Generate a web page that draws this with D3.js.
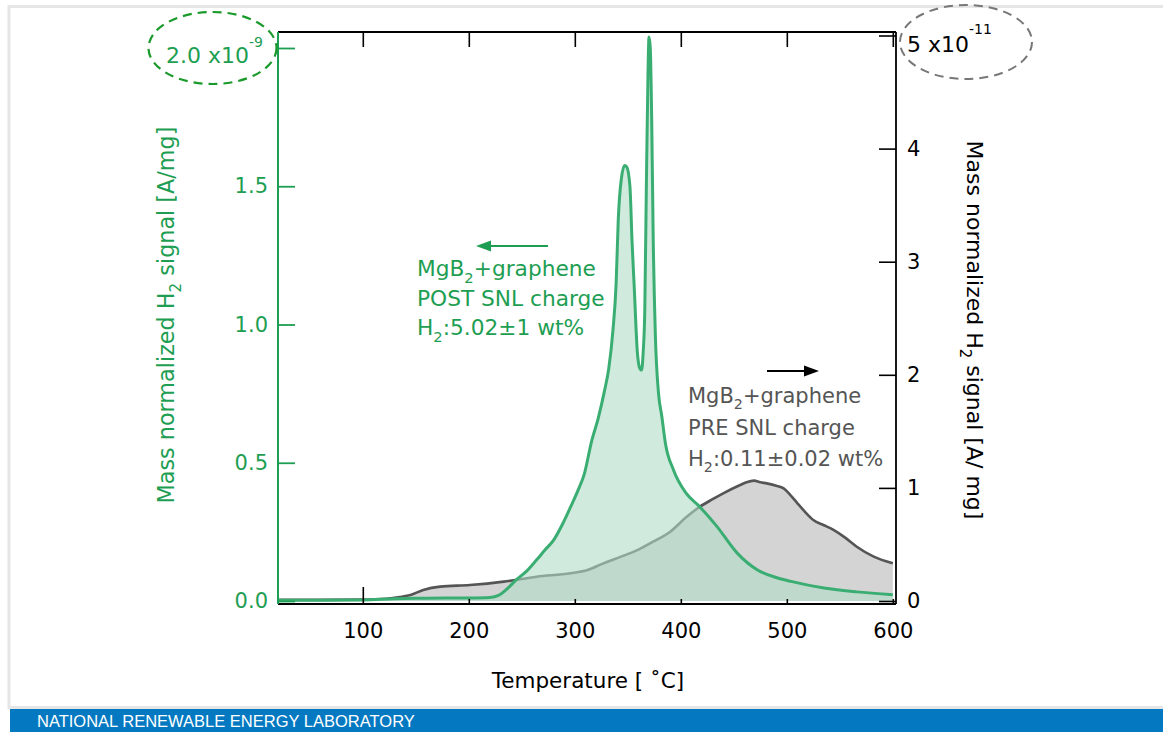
<!DOCTYPE html>
<html>
<head>
<meta charset="utf-8">
<script src="https://cdn.jsdelivr.net/npm/d3@7"></script>
<style>
body { margin: 0; background: #fff; }
svg { display: block; font-family: "DejaVu Sans", sans-serif; }
</style>
</head>
<body>
<div id="chart"></div>
<script>
// POST SNL charge (left axis, x1e-9 A/mg)
const postTemp = [20, 60, 100, 130, 160, 200, 220, 228, 235, 245, 255, 264, 272, 280, 288, 296, 303, 309, 316, 322, 328, 332, 336, 339, 341, 344, 347, 349, 352, 354, 356, 359, 361, 363, 364.5, 366, 367.5, 369, 370, 371.2, 372.5, 374, 376, 379, 382, 385.5, 393, 405, 418, 434, 453, 472, 490, 504, 535, 566, 600];
const postSignal = [0.003, 0.003, 0.004, 0.008, 0.010, 0.011, 0.013, 0.02, 0.04, 0.077, 0.11, 0.149, 0.185, 0.22, 0.275, 0.34, 0.40, 0.46, 0.58, 0.66, 0.76, 0.84, 0.98, 1.15, 1.38, 1.53, 1.575, 1.57, 1.50, 1.30, 1.14, 0.90, 0.845, 0.835, 0.9, 1.05, 1.5, 1.9, 2.04, 2.0, 1.75, 1.3, 0.96, 0.75, 0.67, 0.57, 0.475, 0.39, 0.34, 0.27, 0.174, 0.113, 0.085, 0.071, 0.047, 0.033, 0.023];

// PRE SNL charge (right axis, x1e-11 A/mg)
const preTemp = [20, 60, 100, 122, 135, 145, 157, 173, 201, 233, 264, 296, 312, 327, 343, 359, 375, 390, 405, 418, 430, 440, 456, 462, 469, 475, 481, 490, 497, 504, 510, 518, 525, 535, 544, 555, 566, 582, 600];
const preSignal = [0.01, 0.01, 0.012, 0.02, 0.035, 0.053, 0.097, 0.127, 0.141, 0.171, 0.215, 0.245, 0.274, 0.333, 0.39, 0.45, 0.53, 0.613, 0.74, 0.834, 0.90, 0.952, 1.026, 1.05, 1.064, 1.05, 1.04, 1.02, 0.996, 0.93, 0.864, 0.78, 0.716, 0.67, 0.628, 0.56, 0.48, 0.392, 0.333];

const xTicks = [100, 200, 300, 400, 500, 600];
const leftTicks = [0, 0.5, 1.0, 1.5, 2.0];
const rightTicks = [0, 1, 2, 3, 4, 5];

const green = "#1e9e52";
const greenLine = "#3aae72";

const svg = d3.select("#chart").append("svg")
    .attr("width", 1163)
    .attr("height", 732);

// page frame + banner
svg.append("rect")
    .attr("x", 9).attr("y", 6.5).attr("width", 1160).attr("height", 701)
    .attr("fill", "none").attr("stroke", "#e6e6e6").attr("stroke-width", 3);
svg.append("rect")
    .attr("x", 10).attr("y", 709).attr("width", 1153).attr("height", 23)
    .attr("fill", "#0479c1");
svg.append("text")
    .attr("x", 37).attr("y", 727)
    .attr("fill", "white")
    .style("font-family", "'Liberation Sans', Arial, sans-serif")
    .style("font-size", "16.5px")
    .text("NATIONAL RENEWABLE ENERGY LABORATORY");

const x = d3.scaleLinear().domain([20, 603]).range([278, 896]);
const yL = d3.scaleLinear().domain([0, 2]).range([601, 48]);
const yR = d3.scaleLinear().domain([0, 5]).range([601, 35.5]);

const preData = preTemp.map((t, i) => [t, preSignal[i]]);
const postData = postTemp.map((t, i) => [t, postSignal[i]]);

// PRE (gray) area and line
svg.append("path")
    .datum(preData)
    .attr("d", d3.area().x(d => x(d[0])).y0(yR(0)).y1(d => yR(d[1])).curve(d3.curveMonotoneX))
    .attr("fill", "#d4d4d4");
svg.append("path")
    .datum(preData)
    .attr("d", d3.line().x(d => x(d[0])).y(d => yR(d[1])).curve(d3.curveMonotoneX))
    .attr("fill", "none")
    .attr("stroke", "#555")
    .attr("stroke-width", 2.6)
    .attr("stroke-linejoin", "round");

// POST (green) area and line
svg.append("path")
    .datum(postData)
    .attr("d", d3.area().x(d => x(d[0])).y0(yL(0)).y1(d => yL(d[1])).curve(d3.curveMonotoneX))
    .attr("fill", "rgba(177,222,198,0.6)");
svg.append("path")
    .datum(postData)
    .attr("d", d3.line().x(d => x(d[0])).y(d => yL(d[1])).curve(d3.curveMonotoneX))
    .attr("fill", "none")
    .attr("stroke", greenLine)
    .attr("stroke-width", 3)
    .attr("stroke-linejoin", "round");

// frame lines
svg.append("line").attr("x1", 278).attr("x2", 896).attr("y1", 32).attr("y2", 32)
    .attr("stroke", "#000").attr("stroke-width", 1.8);
svg.append("line").attr("x1", 278).attr("x2", 896).attr("y1", 604).attr("y2", 604)
    .attr("stroke", "#000").attr("stroke-width", 1.8);
svg.append("line").attr("x1", 896).attr("x2", 896).attr("y1", 32).attr("y2", 604)
    .attr("stroke", "#000").attr("stroke-width", 1.8);
svg.append("line").attr("x1", 278).attr("x2", 278).attr("y1", 32).attr("y2", 604)
    .attr("stroke", green).attr("stroke-width", 2);

// bottom axis
const gx = svg.append("g")
    .attr("transform", "translate(0,604)")
    .call(d3.axisBottom(x).tickValues(xTicks).tickSizeInner(-5).tickSizeOuter(0).tickPadding(19).tickFormat(d3.format("d")));
gx.select(".domain").remove();
gx.selectAll(".tick line").attr("y2", d => d === 100 ? -17 : -5).attr("stroke-width", 1.6);
gx.selectAll("text").style("font-size", "21px").style("font-family", "'DejaVu Sans', sans-serif").attr("fill", "#000");

// top axis (ticks only)
const gt = svg.append("g")
    .attr("transform", "translate(0,32)")
    .call(d3.axisTop(x).tickValues(xTicks).tickSizeInner(-15).tickSizeOuter(0).tickFormat(""));
gt.select(".domain").remove();
gt.selectAll(".tick line").attr("stroke-width", 1.6);

// left axis
const gl = svg.append("g")
    .attr("transform", "translate(278,0)")
    .call(d3.axisLeft(yL).tickValues(leftTicks).tickSizeInner(-17).tickSizeOuter(0).tickPadding(10)
        .tickFormat(d => d === 2 ? "" : d3.format(".1f")(d)));
gl.select(".domain").remove();
gl.selectAll(".tick line").attr("stroke", green).attr("stroke-width", 1.8);
gl.selectAll("text").style("font-size", "21px").style("font-family", "'DejaVu Sans', sans-serif").attr("fill", green);

// right axis
const gr = svg.append("g")
    .attr("transform", "translate(896,0)")
    .call(d3.axisRight(yR).tickValues(rightTicks).tickSizeInner(-17).tickSizeOuter(0).tickPadding(11)
        .tickFormat(d => d === 5 ? "" : d3.format("d")(d)));
gr.select(".domain").remove();
gr.selectAll(".tick line").attr("stroke-width", 1.6);
gr.selectAll("text").style("font-size", "21px").style("font-family", "'DejaVu Sans', sans-serif").attr("fill", "#000");

// axis titles
svg.append("text")
    .attr("x", 588).attr("y", 688)
    .attr("text-anchor", "middle")
    .style("font-size", "21.5px")
    .text("Temperature [ ˚C]");

function subText(g, parts, size) {
    parts.forEach(p => {
        if (p.sub) {
            g.append("tspan").attr("dy", size * 0.3).style("font-size", (size * 0.68) + "px").text(p.t);
        } else {
            g.append("tspan").attr("dy", p.after ? -size * 0.3 : 0).text(p.t);
        }
    });
}

const lt = svg.append("text")
    .attr("transform", "translate(174,315) rotate(-90)")
    .attr("text-anchor", "middle")
    .attr("fill", green)
    .style("font-size", "22.3px");
subText(lt, [{t: "Mass normalized H"}, {t: "2", sub: true}, {t: " signal [A/mg]", after: true}], 22.3);

const rt = svg.append("text")
    .attr("transform", "translate(967,330) rotate(90)")
    .attr("text-anchor", "middle")
    .attr("fill", "#000")
    .style("font-size", "22px");
subText(rt, [{t: "Mass normalized H"}, {t: "2", sub: true}, {t: " signal [A/ mg]", after: true}], 22);

// exponent badges
svg.append("ellipse")
    .attr("cx", 212.5).attr("cy", 48).attr("rx", 64).attr("ry", 36)
    .attr("fill", "none").attr("stroke", "#1a9a2a").attr("stroke-width", 2.2)
    .attr("stroke-dasharray", "9,6");
const e1 = svg.append("text").attr("x", 166).attr("y", 63).attr("fill", green).style("font-size", "22px");
e1.append("tspan").text("2.0 x10");
e1.append("tspan").attr("dy", -16).style("font-size", "14px").text("-9");

svg.append("ellipse")
    .attr("cx", 966).attr("cy", 42).attr("rx", 66).attr("ry", 37)
    .attr("fill", "none").attr("stroke", "#777").attr("stroke-width", 2)
    .attr("stroke-dasharray", "9,6");
const e2 = svg.append("text").attr("x", 907).attr("y", 52).attr("fill", "#000").style("font-size", "22px");
e2.append("tspan").text("5 x10");
e2.append("tspan").attr("dy", -18).style("font-size", "14px").text("-11");

// legend: POST
svg.append("line").attr("x1", 548).attr("x2", 486).attr("y1", 246).attr("y2", 246)
    .attr("stroke", green).attr("stroke-width", 2);
svg.append("path").attr("d", "M476,246 L491,240.5 L491,251.5 Z").attr("fill", green);
const postLines = [
    [{t: "MgB"}, {t: "2", sub: true}, {t: "+graphene", after: true}],
    [{t: "POST SNL charge"}],
    [{t: "H"}, {t: "2", sub: true}, {t: ":5.02±1 wt%", after: true}]
];
postLines.forEach((parts, i) => {
    const t = svg.append("text").attr("x", 417).attr("y", 276 + i * 29.5)
        .attr("fill", green).style("font-size", "21.7px");
    subText(t, parts, 21.7);
});

// legend: PRE
svg.append("line").attr("x1", 767).attr("x2", 806).attr("y1", 371).attr("y2", 371)
    .attr("stroke", "#000").attr("stroke-width", 2);
svg.append("path").attr("d", "M819,371 L804,365.5 L804,376.5 Z").attr("fill", "#000");
const preLines = [
    [{t: "MgB"}, {t: "2", sub: true}, {t: "+graphene", after: true}],
    [{t: "PRE SNL charge"}],
    [{t: "H"}, {t: "2", sub: true}, {t: ":0.11±0.02 wt%", after: true}]
];
preLines.forEach((parts, i) => {
    const t = svg.append("text").attr("x", 688).attr("y", 403 + i * 31.5)
        .attr("fill", "#555").style("font-size", "21px");
    subText(t, parts, 21);
});
</script>
</body>
</html>
